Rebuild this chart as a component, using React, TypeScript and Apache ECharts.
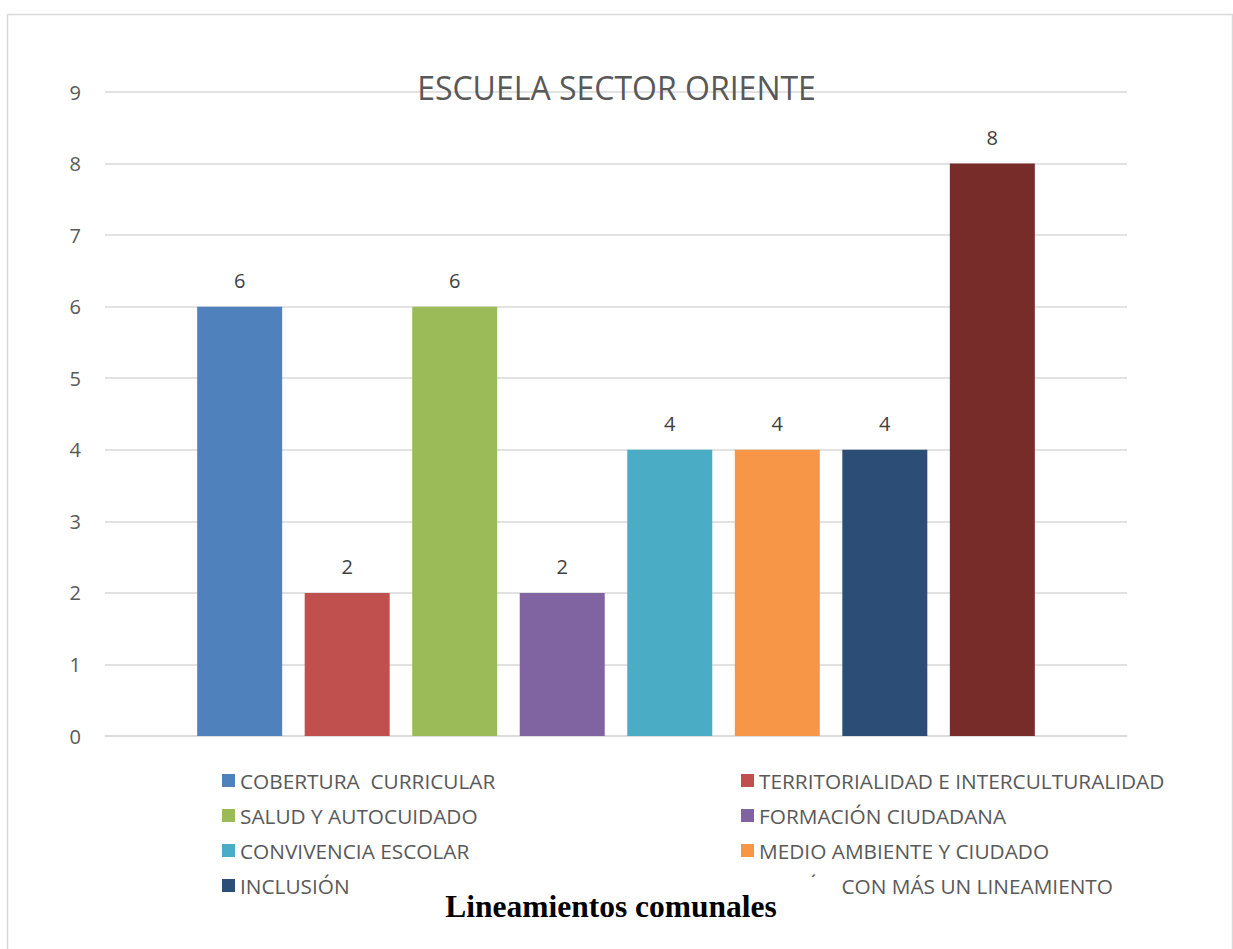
import React, { useEffect, useRef } from "react";
import * as echarts from "echarts";

const seriesNames = [
  "COBERTURA  CURRICULAR",
  "TERRITORIALIDAD E INTERCULTURALIDAD",
  "SALUD Y AUTOCUIDADO",
  "FORMACIÓN CIUDADANA",
  "CONVIVENCIA ESCOLAR",
  "MEDIO AMBIENTE Y CIUDADO",
  "INCLUSIÓN",
  "ACCIÓN CON MÁS UN LINEAMIENTO",
];
const seriesValues = [6, 2, 6, 2, 4, 4, 4, 8];
const colors = ["#4F81BD", "#C0504D", "#9BBB59", "#8064A2", "#4BACC6", "#F79646", "#2C4D75", "#772C2A"];
const categories = ["Escuela Sector Oriente"];
const titleText = "ESCUELA SECTOR ORIENTE";
const axisTitle = "Lineamientos comunales";

const FONT = "'Open Sans', 'Noto Sans', sans-serif";

export default function App() {
  const ref = useRef<HTMLDivElement>(null);
  useEffect(() => {
    if (!ref.current) return;
    const chart = echarts.init(ref.current, null, { renderer: "svg" });
    const leftNames = seriesNames.filter((_, i) => i % 2 === 0);
    const rightNames = seriesNames.filter((_, i) => i % 2 === 1);
    const legendCommon = {
      orient: "vertical",
      top: 770,
      padding: 0,
      itemWidth: 13,
      itemHeight: 13,
      itemGap: 14,
      icon: "rect",
      selectedMode: false,
      textStyle: { fontFamily: FONT, fontSize: 20.8, color: "#595959", lineHeight: 20.5 },
    };
    chart.setOption({
      animation: false,
      title: {
        text: titleText,
        left: "center",
        top: 71,
        padding: 0,
        textStyle: { fontFamily: FONT, fontSize: 32, fontWeight: "normal", color: "#595959" },
      },
      legend: [
        { ...legendCommon, left: 222, data: leftNames },
        { ...legendCommon, left: 741, data: rightNames },
      ],
      grid: { left: 105, right: 106, top: 92, bottom: 213, containLabel: false },
      xAxis: {
        type: "category",
        data: categories,
        axisLine: { show: true, lineStyle: { color: "#d9d9d9", width: 1.5 } },
        axisTick: { show: false },
        axisLabel: { show: false },
      },
      yAxis: {
        type: "value",
        min: 0,
        max: 9,
        interval: 1,
        axisLine: { show: false },
        axisTick: { show: false },
        axisLabel: { fontFamily: FONT, fontSize: 20, color: "#595959", margin: 24 },
        splitLine: { lineStyle: { color: "#d9d9d9", width: 1.5 } },
      },
      series: seriesNames.map((name, i) => ({
        name,
        type: "bar",
        data: [seriesValues[i]],
        barWidth: 85,
        barGap: "26.5%",
        itemStyle: { color: colors[i] },
        label: {
          show: true,
          position: "top",
          distance: 16,
          fontFamily: FONT,
          fontSize: 20,
          color: "#404040",
        },
      })),
      graphic: [
        {
          type: "rect",
          z: 200,
          shape: { x: 7.5, y: 14.5, width: 1225, height: 960 },
          style: { fill: "none", stroke: "#d9d9d9", lineWidth: 1.5 },
          silent: true,
        },
        {
          type: "rect",
          z: 200,
          shape: { x: 379, y: 877, width: 462, height: 58 },
          style: { fill: "#ffffff" },
          silent: true,
        },
        {
          type: "text",
          z: 201,
          x: 611,
          y: 906,
          style: {
            text: axisTitle,
            fontFamily: "'Liberation Serif', 'Times New Roman', serif",
            fontWeight: "bold",
            fontSize: 31.5,
            fill: "#000000",
            align: "center",
            verticalAlign: "middle",
          },
          silent: true,
        },
      ],
    });
    return () => chart.dispose();
  }, []);
  return (
    <div
      ref={ref}
      style={{ position: "fixed", left: 0, top: 0, width: 1233, height: 949, background: "#ffffff" }}
    />
  );
}
